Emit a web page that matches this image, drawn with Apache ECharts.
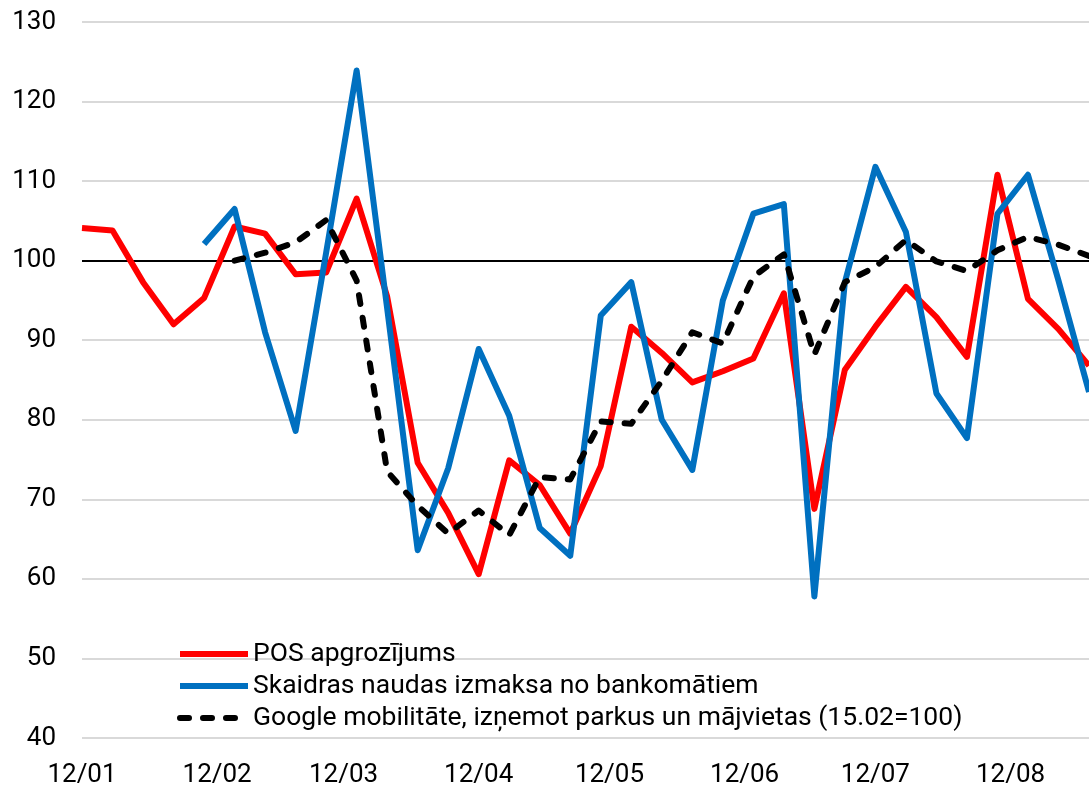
<!DOCTYPE html>
<html>
<head>
<meta charset="utf-8">
<title>POS / bankomāti / Google mobilitāte</title>
<script src="https://cdn.jsdelivr.net/npm/echarts@6/dist/echarts.min.js"></script>
<style>
    html, body {margin: 0; padding: 0; background: #fff;}
    #chart {width: 1089px; height: 791px;}
</style>
</head>
<body>
<div id="chart"></div>
<script>
// nedēļas datumi (svētdienas)
var weeks = ['2020-01-12', '2020-01-19', '2020-01-26', '2020-02-02', '2020-02-09', '2020-02-16', '2020-02-23',
    '2020-03-01', '2020-03-08', '2020-03-15', '2020-03-22', '2020-03-29', '2020-04-05', '2020-04-12',
    '2020-04-19', '2020-04-26', '2020-05-03', '2020-05-10', '2020-05-17', '2020-05-24', '2020-05-31',
    '2020-06-07', '2020-06-14', '2020-06-21', '2020-06-28', '2020-07-05', '2020-07-12', '2020-07-19',
    '2020-07-26', '2020-08-02', '2020-08-09', '2020-08-16', '2020-08-23', '2020-08-30'];
var posData = [104.1, 103.8, 97.3, 92.0, 95.3, 104.3, 103.4, 98.3, 98.5, 107.8, 95.5, 74.6, 68.3, 60.6,
    74.9, 71.8, 65.7, 74.2, 91.7, 88.4, 84.7, 86.1, 87.7, 95.9, 68.8, 86.3, 91.7, 96.7, 92.9, 87.9,
    110.8, 95.2, 91.4, 86.8];
var atmData = [null, null, null, null, 102.1, 106.5, 91.0, 78.6, 101.0, 123.9, 94.0, 63.6, 73.9, 88.9,
    80.5, 66.4, 62.9, 93.1, 97.3, 80.0, 73.7, 95.0, 105.9, 107.1, 57.8, 97.3, 111.8, 103.6, 83.3, 77.7,
    105.9, 110.8, 97.5, 83.5];
var googleData = [null, null, null, null, null, 100.0, 101.0, 102.3, 105.1, 97.5, 73.5, 69.2, 65.7, 68.6,
    65.5, 72.8, 72.5, 79.8, 79.5, 84.9, 91.0, 89.6, 98.0, 100.8, 88.2, 97.3, 99.2, 102.6, 99.9, 98.7,
    101.3, 103.0, 102.0, 100.6];
var names = ['POS apgrozījums', 'Skaidras naudas izmaksa no bankomātiem',
    'Google mobilitāte, izņemot parkus un mājvietas (15.02=100)'];
// ass etiķetes
var labelDates = ['2020-01-12', '2020-02-12', '2020-03-12', '2020-04-12', '2020-05-12', '2020-06-12',
    '2020-07-12', '2020-08-12'];
var yTicks = [40, 50, 60, 70, 80, 90, 100, 110, 120, 130];

var FONT = 'Roboto';
var DAY = 86400000;

function toTime(s) {
    var p = s.split('-');
    return Date.UTC(+p[0], +p[1] - 1, +p[2]);
}
// dienas kopš pirmās nedēļas
var start = toTime(weeks[0]);
function toDay(s) {
    return Math.round((toTime(s) - start) / DAY);
}
function pad(n) {
    return n < 10 ? '0' + n : '' + n;
}
function pairs(vals) {
    return weeks.map(function (w, i) {
        return [toDay(w), vals[i] == null ? '-' : vals[i]];
    });
}

var chart = echarts.init(document.getElementById('chart'), null, {renderer: 'canvas'});
var option = {
    animation: false,
    backgroundColor: '#fff',
    textStyle: {fontFamily: FONT, color: '#000'},
    grid: {left: 82, right: 0, top: 22, bottom: 53},
    legend: {
        orient: 'vertical',
        left: 172,
        top: 634,
        itemWidth: 68,
        itemHeight: 14,
        itemGap: 2,
        data: names,
        itemStyle: {opacity: 0},
        lineStyle: {width: 6},
        textStyle: {fontFamily: FONT, fontSize: 26.5, color: '#000', lineHeight: 30}
    },
    xAxis: {
        type: 'value',
        min: 0,
        max: toDay(weeks[weeks.length - 1]),
        axisLine: {show: false},
        axisTick: {show: false},
        splitLine: {show: false},
        axisLabel: {
            customValues: labelDates.map(toDay),
            margin: 24,
            fontFamily: FONT,
            fontSize: 26,
            color: '#000',
            hideOverlap: false,
            formatter: function (v) {
                var d = new Date(start + v * DAY);
                return pad(d.getUTCDate()) + '/' + pad(d.getUTCMonth() + 1);
            }
        }
    },
    yAxis: {
        type: 'value',
        min: yTicks[0],
        max: yTicks[yTicks.length - 1],
        interval: 10,
        axisLine: {show: false},
        axisTick: {show: false},
        axisLabel: {margin: 26, fontFamily: FONT, fontSize: 26, color: '#000'},
        splitLine: {lineStyle: {color: '#d9d9d9', width: 2}}
    },
    series: [
        {
            name: names[0],
            type: 'line',
            data: pairs(posData),
            showSymbol: false,
            symbol: 'none',
            z: 2,
            color: '#ff0000',
            lineStyle: {color: '#ff0000', width: 6, join: 'round'},
            markLine: {
                silent: true,
                symbol: 'none',
                z: 1,
                label: {show: false},
                lineStyle: {color: '#000', width: 2, type: 'solid'},
                data: [{yAxis: 100}]
            }
        },
        {
            name: names[1],
            type: 'line',
            data: pairs(atmData),
            showSymbol: false,
            symbol: 'none',
            z: 3,
            color: '#0070c0',
            lineStyle: {color: '#0070c0', width: 6, join: 'round'}
        },
        {
            name: names[2],
            type: 'line',
            data: pairs(googleData),
            showSymbol: false,
            symbol: 'none',
            z: 4,
            color: '#000',
            lineStyle: {color: '#000', width: 6, type: [9, 14], cap: 'round', join: 'round'}
        }
    ]
};
chart.setOption(option);
</script>
</body>
</html>
